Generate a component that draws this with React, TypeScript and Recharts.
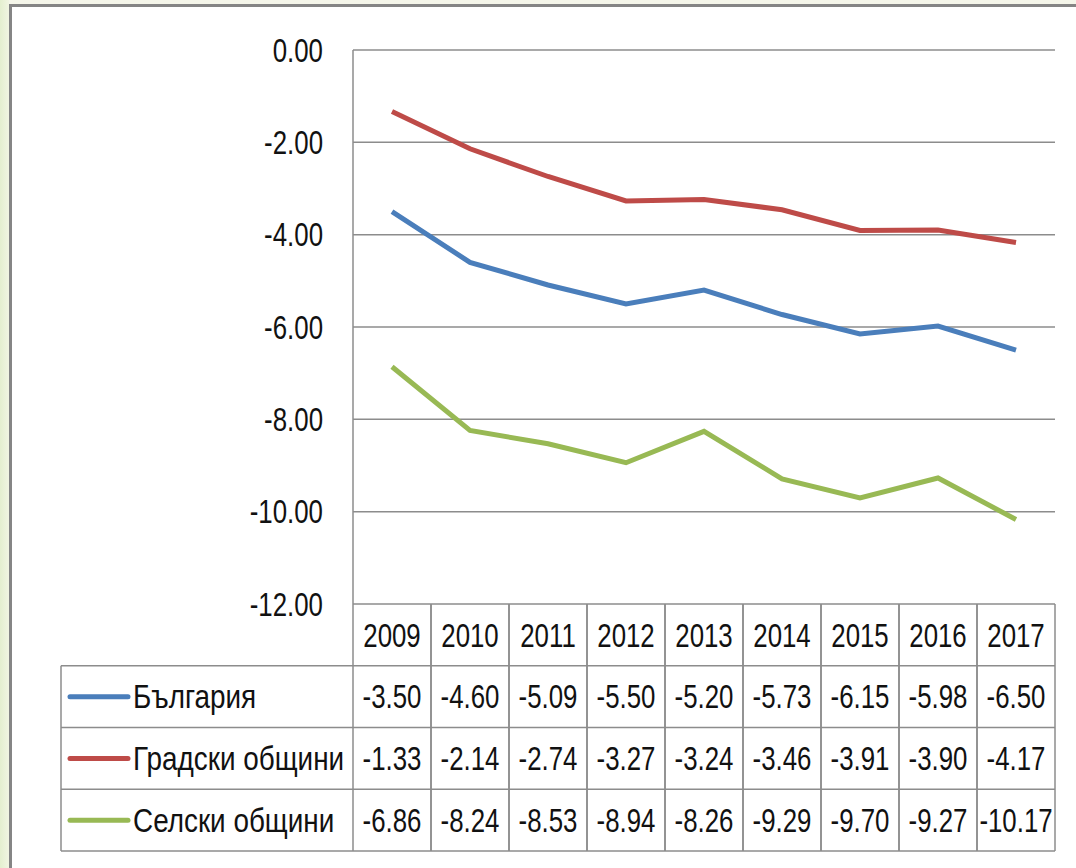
import { LineChart, Line, XAxis, YAxis, CartesianGrid } from 'recharts';

const years = ['2009', '2010', '2011', '2012', '2013', '2014', '2015', '2016', '2017'];
const bulgaria = [-3.5, -4.6, -5.09, -5.5, -5.2, -5.73, -6.15, -5.98, -6.5];
const urban = [-1.33, -2.14, -2.74, -3.27, -3.24, -3.46, -3.91, -3.9, -4.17];
const rural = [-6.86, -8.24, -8.53, -8.94, -8.26, -9.29, -9.7, -9.27, -10.17];
const seriesNames = ['България', 'Градски общини', 'Селски общини'];
const yTicks = [0, -2, -4, -6, -8, -10, -12];

const colors = ['#4a7ebb', '#be4b48', '#98b954'];
const seriesValues = [bulgaria, urban, rural];

const data = years.map((year, i) => ({
  year,
  bg: bulgaria[i],
  urban: urban[i],
  rural: rural[i],
}));

const FONT = "'Liberation Sans', Arial, sans-serif";
const FS = 34;
const SX = 0.76; // squeeze to a narrow face
const GRID = '#8c8c8c';
const TABLE_TOP = 604;
const ROW_H = 61.75;
const BAND = 78;
const LEGEND_W = 292;

const NarrowText = ({ x, y, anchor = 'start', sx = SX, children }: any) => (
  <text
    transform={`translate(${x},${y}) scale(${sx},1)`}
    textAnchor={anchor}
    dominantBaseline="central"
    fontSize={FS}
    fontFamily={FONT}
    fill="#111"
  >
    {children}
  </text>
);

const YTick = (props: any) => {
  const { x, y, payload } = props;
  return <NarrowText x={x} y={y} anchor="end">{Number(payload.value).toFixed(2)}</NarrowText>;
};

// x axis tick draws a whole table column (year + the three values)
const TableTick = (props: any) => {
  const { x, payload, index } = props;
  const left = x - BAND / 2;
  const right = x + BAND / 2;
  const bottom = TABLE_TOP + ROW_H * 4;
  return (
    <g>
      <line x1={left} x2={left} y1={TABLE_TOP} y2={bottom} stroke={GRID} strokeWidth={1.5} />
      <line x1={right} x2={right} y1={TABLE_TOP} y2={bottom} stroke={GRID} strokeWidth={1.5} />
      {[1, 2, 3, 4].map((r) => (
        <line key={r} x1={left} x2={right} y1={TABLE_TOP + ROW_H * r} y2={TABLE_TOP + ROW_H * r} stroke={GRID} strokeWidth={1.5} />
      ))}
      <NarrowText x={x} y={TABLE_TOP + ROW_H / 2} anchor="middle">{payload.value}</NarrowText>
      {seriesValues.map((vals, r) => (
        <NarrowText key={r} x={x} y={TABLE_TOP + ROW_H * (r + 1.5)} anchor="middle">
          {vals[index].toFixed(2)}
        </NarrowText>
      ))}
      {index === 0 && (
        <g>
          <line x1={left - LEGEND_W} x2={left - LEGEND_W} y1={TABLE_TOP + ROW_H} y2={bottom} stroke={GRID} strokeWidth={1.5} />
          {[1, 2, 3, 4].map((r) => (
            <line key={r} x1={left - LEGEND_W} x2={left} y1={TABLE_TOP + ROW_H * r} y2={TABLE_TOP + ROW_H * r} stroke={GRID} strokeWidth={1.5} />
          ))}
          {seriesNames.map((name, r) => {
            const cy = TABLE_TOP + ROW_H * (r + 1.5);
            return (
              <g key={name}>
                <line x1={left - LEGEND_W + 9} x2={left - LEGEND_W + 67} y1={cy} y2={cy} stroke={colors[r]} strokeWidth={5} strokeLinecap="round" />
                <NarrowText x={left - LEGEND_W + 72} y={cy} sx={0.82}>{name}</NarrowText>
              </g>
            );
          })}
        </g>
      )}
    </g>
  );
};

export default function App() {
  return (
    <div style={{ position: 'absolute', left: 0, top: 0, width: 1076, height: 868, background: '#f5f6ea', overflow: 'hidden' }}>
      <div style={{ position: 'absolute', left: 0, top: 0, width: 9, height: 868, background: 'linear-gradient(to right, #e4efcf, #f1f5e2)' }} />
      <div style={{ position: 'absolute', left: 9, top: 4, width: 1080, height: 880, background: '#fff', borderLeft: '3px solid #858585', borderTop: '3px solid #858585' }} />
      <div style={{ position: 'absolute', left: 0, top: 0 }}>
        <LineChart width={1076} height={868} data={data} margin={{ top: 50, right: 21, left: 0, bottom: 17 }}>
          <CartesianGrid vertical={false} stroke={GRID} strokeWidth={1.5} />
          <XAxis dataKey="year" scale="band" height={247} axisLine={false} tickLine={false} interval={0} tick={<TableTick />} />
          <YAxis
            width={353}
            domain={[-12, 0]}
            ticks={yTicks}
            axisLine={{ stroke: GRID, strokeWidth: 1.5 }}
            tickLine={false}
            tickSize={0}
            tickMargin={30}
            tick={<YTick />}
          />
          <Line dataKey="bg" stroke={colors[0]} strokeWidth={5} dot={false} isAnimationActive={false} />
          <Line dataKey="urban" stroke={colors[1]} strokeWidth={5} dot={false} isAnimationActive={false} />
          <Line dataKey="rural" stroke={colors[2]} strokeWidth={5} dot={false} isAnimationActive={false} />
        </LineChart>
      </div>
    </div>
  );
}
